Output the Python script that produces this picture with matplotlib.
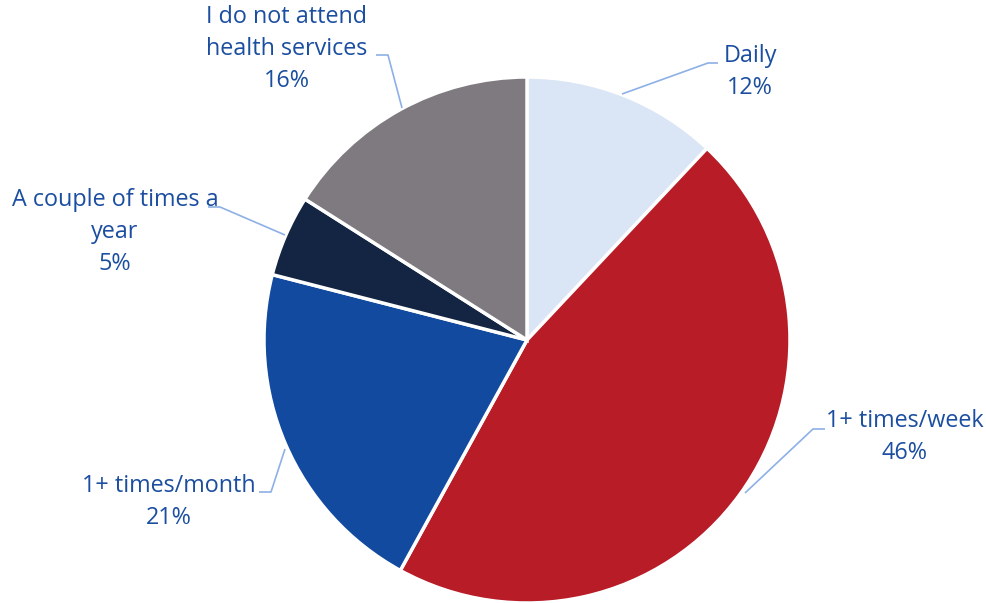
import matplotlib.pyplot as plt

categories = [
    "Daily",
    "1+ times/week",
    "1+ times/month",
    "A couple of times a\nyear",
    "I do not attend\nhealth services",
]
shares = [12, 46, 21, 5, 16]
colors = ["#DAE5F5", "#B71C27", "#114A9E", "#132542", "#7E7A80"]

TEXT_COLOR = "#1B4EA0"
LINE_COLOR = "#8DB0E6"

# label anchor (pixel coords, y from top) and leader line paths
label_pos = [(750, 72), (905, 437), (169, 502), (115, 232), (287, 49)]
leaders = [
    [(622, 94), (708, 63), (718, 63)],
    [(745, 493), (813, 429), (825, 429)],
    [(285, 449), (271, 492), (259, 492)],
    [(285, 235), (220, 207), (208, 207)],
    [(402, 108), (388, 55), (376, 55)],
]

W, H = 987, 603
plt.rcParams["font.family"] = ["Open Sans", "DejaVu Sans"]

fig = plt.figure(figsize=(W / 100, H / 100), dpi=100)
ax = fig.add_axes([0, 0, 1, 1])

ax.pie(
    shares,
    colors=colors,
    startangle=90,
    counterclock=False,
    center=(527, H - 340),
    radius=263,
    wedgeprops=dict(edgecolor="white", linewidth=2.5),
    frame=True,
)
ax.set_xlim(0, W)
ax.set_ylim(0, H)
ax.set_aspect("equal")
ax.axis("off")

for name, pct, (x, y), path in zip(categories, shares, label_pos, leaders):
    xs = [p[0] for p in path]
    ys = [H - p[1] for p in path]
    ax.plot(xs, ys, color=LINE_COLOR, linewidth=1.2, solid_capstyle="butt")
    ax.text(x, H - y, f"{name}\n{pct}%", ha="center", va="center",
            color=TEXT_COLOR, fontsize=16.8, linespacing=1.42)

fig.savefig("out.png", dpi=100)
